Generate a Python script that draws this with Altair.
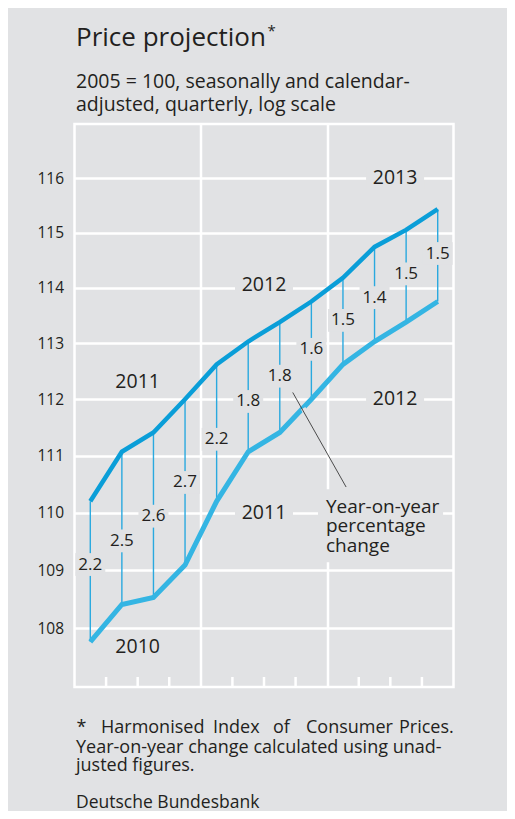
import altair as alt
import pandas as pd

# ---------------- data ----------------
quarters = ["2010 Q1", "2010 Q2", "2010 Q3", "2010 Q4",
            "2011 Q1", "2011 Q2", "2011 Q3", "2011 Q4",
            "2012 Q1", "2012 Q2", "2012 Q3", "2012 Q4"]
# HICP level in the quarter shown on the axis (2010-2012)
level_base_year = [107.77, 108.41, 108.53, 109.09, 110.20, 111.07,
                   111.41, 112.00, 112.62, 113.03, 113.38, 113.75]
# HICP level one year later (2011-2013)
level_next_year = [110.20, 111.07, 111.41, 112.00, 112.62, 113.03,
                   113.38, 113.75, 114.18, 114.74, 115.05, 115.43]
yoy_change = ["2.2", "2.5", "2.6", "2.7", "2.2", "1.8",
              "1.8", "1.6", "1.5", "1.4", "1.5", "1.5"]
yoy_label_level = [109.10, 109.51, 109.94, 110.53, 111.29, 111.96,
                   112.41, 112.89, 113.41, 113.82, 114.25, 114.62]

y_ticks = [108, 109, 110, 111, 112, 113, 114, 115, 116]
year_bounds = [4, 8]
quarter_ticks = [1, 2, 3, 5, 6, 7, 9, 10, 11]

year_labels = ["2011", "2012", "2013", "2010", "2011", "2012"]
year_label_x = [2.0, 6.0, 10.15, 2.0, 6.0, 10.15]
year_label_y = [112.30, 114.05, 116.0, 107.68, 110.0, 112.0]

footnote_words = ["*", "Harmonised", "Index", "of", "Consumer", "Prices."]
footnote_word_x = [2.0, 26.5, 138.5, 198.5, 231.5, 324.5]

# ---------------- styling ----------------
BG = "#e1e2e4"
DARK = "#0a9ed8"
LIGHT = "#34b5e3"
THIN = "#2aa9df"
TXT = "#231f20"
FONT = "Open Sans"
W, H = 379, 563

df = pd.DataFrame({
    "quarter": quarters,
    "pos": [i + 0.5 for i in range(len(quarters))],
    "lower": level_base_year,
    "upper": level_next_year,
    "yoy": yoy_change,
    "lab": yoy_label_level,
})
years_df = pd.DataFrame({"t": year_labels, "pos": year_label_x, "v": year_label_y})
qt_df = pd.DataFrame({"pos": quarter_ticks})

xs = alt.Scale(domain=[0, 12], nice=False, zero=False)
ys = alt.Scale(type="log", domain=[107, 117], nice=False)
xax = alt.Axis(values=year_bounds, grid=True, gridColor="white", gridWidth=2.5,
               labels=False, ticks=False, domain=False, title=None)
yax = alt.Axis(values=y_ticks, grid=True, gridColor="white", gridWidth=2.5,
               ticks=False, domain=False, title=None, labelPadding=11,
               labelFontSize=15.5, labelColor=TXT, labelFont=FONT)


def X(f="pos"):
    return alt.X(f"{f}:Q", scale=xs, axis=xax)


def Y(f):
    return alt.Y(f"{f}:Q", scale=ys, axis=yax)


base = alt.Chart(df)

ticks = alt.Chart(qt_df).mark_rule(color="white", strokeWidth=2.5).encode(
    x=X(), y=alt.value(H - 10), y2=alt.value(H))

connectors = base.mark_rule(color=THIN, strokeWidth=1.4).encode(
    x=X(), y=Y("lower"), y2="upper:Q")

box_small = "M-1,-0.76L1,-0.76L1,0.76L-1,0.76Z"
box_year = "M-1,-0.36L1,-0.36L1,0.36L-1,0.36Z"

label_boxes = base.mark_point(shape=box_small, size=900, filled=True,
                              color=BG, opacity=1, strokeWidth=0).encode(
    x=X(), y=Y("lab"))

year_boxes = alt.Chart(years_df).mark_point(shape=box_year, size=3364, filled=True,
                                            color=BG, opacity=1, strokeWidth=0).encode(
    x=X(), y=Y("v"))

ann_box_df = pd.DataFrame({"x": [7.71], "x2": [11.67], "y": [110.41], "y2": [109.14]})
ann_box = alt.Chart(ann_box_df).mark_rect(color=BG).encode(
    x=X("x"), x2="x2:Q", y=Y("y"), y2="y2:Q")

lower_line = base.mark_line(color=LIGHT, strokeWidth=5).encode(x=X(), y=Y("lower"))
upper_line = base.mark_line(color=DARK, strokeWidth=4.5).encode(x=X(), y=Y("upper"))

gap_df = pd.DataFrame({"x": [7.24, 7.43], "y": [111.84, 111.65]})
gap = alt.Chart(gap_df).mark_line(color=BG, strokeWidth=5).encode(x=X("x"), y=Y("y"))

leader_df = pd.DataFrame({"x": [6.91, 8.6], "y": [112.12, 110.45]})
leader = alt.Chart(leader_df).mark_line(color="#3a3a3a", strokeWidth=0.9).encode(
    x=X("x"), y=Y("y"))

yoy_text = base.mark_text(font=FONT, fontSize=17, color=TXT, baseline="middle").encode(
    x=X(), y=Y("lab"), text="yoy:N")

year_text = alt.Chart(years_df).mark_text(font=FONT, fontSize=19.5, color=TXT,
                                          baseline="middle").encode(
    x=X(), y=Y("v"), text="t:N")

ann_df = pd.DataFrame({"x": [7.96], "y": [110.0],
                       "t": ["Year-on-year\npercentage\nchange"]})
ann_text = alt.Chart(ann_df).mark_text(font=FONT, fontSize=19, color=TXT, align="left",
                                       baseline="alphabetic", lineBreak="\n",
                                       lineHeight=19.5).encode(
    x=X("x"), y=Y("y"), text="t:N")


def free_text(txt, x, y, size, **kw):
    d = pd.DataFrame({"t": [txt]})
    return alt.Chart(d).mark_text(font=FONT, fontSize=size, color=TXT, align="left",
                                  baseline="alphabetic", **kw).encode(
        x=alt.value(x), y=alt.value(y), text="t:N")


title = free_text("Price projection", 1.5, -78.5, 26)
star = free_text("*", 193, -88, 15)
sub1 = free_text("2005 = 100, seasonally and calendar-", 1.5, -36, 19.5)
sub2 = free_text("adjusted, quarterly, log scale", 1.5, -13, 19.5)

fw_df = pd.DataFrame({"t": footnote_words, "x": footnote_word_x})
foot1 = alt.Chart(fw_df).mark_text(font=FONT, fontSize=18, color=TXT, align="left",
                                   baseline="alphabetic").encode(
    x=alt.X("x:Q", scale=None), y=alt.value(609.3), text="t:N")
foot2 = free_text("Year-on-year change calculated using unad-", 1.5, 628.7, 18)
foot3 = free_text("justed figures.", 1.5, 647, 18)
source = free_text("Deutsche Bundesbank", 1.5, 684, 17.5)

chart = alt.layer(
    ticks, connectors, label_boxes, year_boxes, ann_box, lower_line, upper_line,
    gap, leader, yoy_text, year_text, ann_text,
    title, star, sub1, sub2, foot1, foot2, foot3, source,
).properties(
    width=W, height=H,
    autosize=alt.AutoSizeParams(type="none"),
    padding={"left": 66.5, "top": 116, "right": 53.5, "bottom": 124},
    background=BG,
).configure_view(stroke="white", strokeWidth=2.5)

chart.save("out.html", embed_options={"renderer": "svg", "actions": False})
